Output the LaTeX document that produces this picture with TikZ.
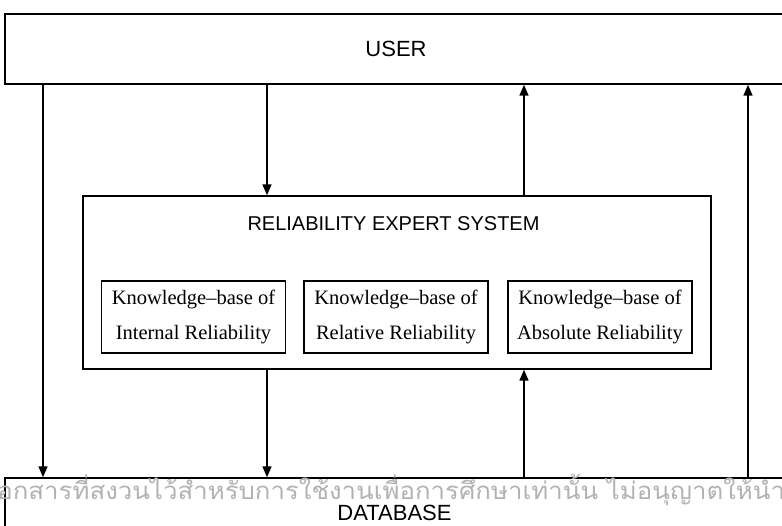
\documentclass[tikz,border=0pt]{standalone}
\usepackage{fontspec}
\setmainfont{Liberation Serif}
\newfontfamily\headfont{Liberation Sans}
\newfontfamily\thaifont[Script=Thai,FakeStretch=1.075]{Loma}
\usetikzlibrary{arrows.meta}

\tikzset{
    box/.style={draw, line width=1.4pt, inner sep=0pt},
    kbox/.style={box, line width=1.2pt, minimum width=184pt, minimum height=72pt,
        align=center, font=\fontsize{20.5}{35}\selectfont},
    flow/.style={line width=1.5pt, -{Triangle[length=11pt,width=9pt]}}
}

\begin{document}
\begin{tikzpicture}[x=1pt, y=-1pt]
    \useasboundingbox (0,0) rectangle (782,525);
    \clip (0,0) rectangle (782,525);

    \node[box, minimum width=782pt, minimum height=70pt,
        font=\headfont\fontsize{22}{26}\selectfont] (user) at (396,49) {USER};
    \node[box, minimum width=779pt, minimum height=70pt,
        font=\headfont\fontsize{22}{26}\selectfont] (db) at (394.5,513) {DATABASE};

    \node[box, minimum width=628pt, minimum height=173pt] (res) at (397,282.5) {};
    \node[font=\headfont\fontsize{20}{24}\selectfont] (title) at (393.5,224)
        {RELIABILITY EXPERT SYSTEM};

    \node[kbox] (kbint) at (193.5,317) {Knowledge–base of\\Internal Reliability};
    \node[kbox] (kbrel) at (396,317) {Knowledge–base of\\Relative Reliability};
    \node[kbox] (kbabs) at (600,317) {Knowledge–base of\\Absolute Reliability};

    \coordinate (c1) at (43,0);
    \coordinate (c2) at (267,0);
    \coordinate (c3) at (524,0);
    \coordinate (c4) at (748,0);

    \draw[flow] (user.south -| c1) -- (db.north -| c1);
    \draw[flow] (user.south -| c2) -- (res.north -| c2);
    \draw[flow] (res.north -| c3) -- (user.south -| c3);
    \draw[flow] (db.north -| c4) -- (user.south -| c4);
    \draw[flow] (res.south -| c2) -- (db.north -| c2);
    \draw[flow] (db.north -| c3) -- (res.south -| c3);

    \node[anchor=west, text=black!30, font=\thaifont\fontsize{24}{28}\selectfont]
        (mark) at (-15,490) {เอกสารที่สงวนไว้สำหรับการใช้งานเพื่อการศึกษาเท่านั้น ไม่อนุญาตให้นำ};
\end{tikzpicture}
\end{document}
